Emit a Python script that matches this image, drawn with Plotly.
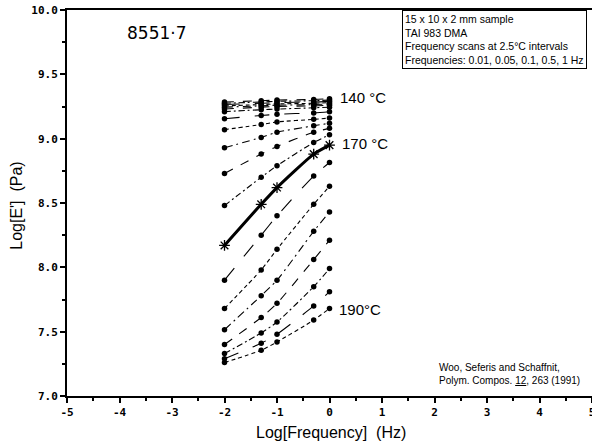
import plotly.graph_objects as go

# Log10 of the scan frequencies 0.01, 0.05, 0.1, 0.5, 1 Hz
log_freq = [-2.0, -1.301, -1.0, -0.301, 0.0]

# Log[E'] (Pa) for each isothermal frequency scan, top (140 °C) to bottom (190 °C)
c01 = [9.285, 9.295, 9.300, 9.305, 9.310]
c02 = [9.275, 9.285, 9.290, 9.295, 9.300]
c03 = [9.265, 9.275, 9.280, 9.285, 9.290]
c04 = [9.255, 9.265, 9.270, 9.275, 9.280]
c05 = [9.245, 9.255, 9.260, 9.265, 9.270]
c06 = [9.230, 9.245, 9.250, 9.255, 9.260]
c07 = [9.210, 9.225, 9.230, 9.240, 9.245]
c08 = [9.155, 9.180, 9.190, 9.200, 9.210]
c09 = [9.070, 9.110, 9.130, 9.150, 9.160]
c10 = [8.930, 9.010, 9.050, 9.100, 9.120]
c11 = [8.730, 8.880, 8.940, 9.050, 9.080]
c12 = [8.480, 8.700, 8.790, 8.970, 9.030]
c170 = [8.170, 8.490, 8.620, 8.880, 8.950]
c14 = [7.900, 8.250, 8.400, 8.710, 8.815]
c15 = [7.680, 7.980, 8.140, 8.490, 8.630]
c16 = [7.515, 7.780, 7.900, 8.280, 8.430]
c17 = [7.400, 7.610, 7.720, 8.060, 8.210]
c18 = [7.330, 7.490, 7.575, 7.850, 7.990]
c19 = [7.290, 7.410, 7.480, 7.700, 7.810]
c20 = [7.260, 7.355, 7.420, 7.590, 7.680]

dashed_curves = [c01, c02, c03, c04, c05, c06, c07, c08, c09, c10, c11, c12,
                 c14, c15, c16, c17, c18, c19, c20]

x_ticks = [-5, -4, -3, -2, -1, 0, 1, 2, 3, 4, 5]
x_tick_text = ["-5", "-4", "-3", "-2", "-1", "0", "1", "2", "3", "4", "5"]
y_ticks = [7.0, 7.5, 8.0, 8.5, 9.0, 9.5, 10.0]
y_tick_text = ["7.0", "7.5", "8.0", "8.5", "9.0", "9.5", "10.0"]

dash_styles = ["dash", "6px,3px,2px,3px", "longdash", "4px,3px", "8px,4px,2px,4px"]

fig = go.Figure()
for i, vals in enumerate(dashed_curves):
    fig.add_trace(go.Scatter(
        x=log_freq, y=vals, mode="lines+markers",
        line=dict(color="black", width=1.1, dash=dash_styles[i % len(dash_styles)], shape="spline", smoothing=0.6),
        marker=dict(color="black", size=5.5, symbol="circle"),
        showlegend=False, hoverinfo="skip"))

fig.add_trace(go.Scatter(
    x=log_freq, y=c170, mode="lines+markers",
    line=dict(color="black", width=3, shape="spline", smoothing=0.6),
    marker=dict(color="black", size=9, symbol="asterisk-open", line=dict(color="black", width=1.3)),
    showlegend=False, hoverinfo="skip"))

W, H = 592, 448
PL, PR, PT, PB = 67, 592, 10, 396.5
def px_x(p):
    return (p - PL) / (PR - PL)
def px_y(p):
    return (PB - p) / (PB - PT)

ann = []
ann.append(dict(x=-3.3, y=9.82, xref="x", yref="y", text="8551·7", showarrow=False,
                font=dict(family="DejaVu Sans", size=17, color="black")))
ann.append(dict(x=0.17, y=9.32, xref="x", yref="y", text="140 °C", showarrow=False, xanchor="left",
                font=dict(family="Liberation Sans", size=15, color="black")))
ann.append(dict(x=0.2, y=8.96, xref="x", yref="y", text="170 °C", showarrow=False, xanchor="left",
                font=dict(family="Liberation Sans", size=15, color="black")))
ann.append(dict(x=0.14, y=7.67, xref="x", yref="y", text="190°C", showarrow=False, xanchor="left",
                font=dict(family="Liberation Sans", size=15, color="black")))
ann.append(dict(x=px_x(402), y=1.0, xref="paper", yref="paper", xanchor="left", yanchor="top",
                text="15 x 10 x 2 mm sample<br>TAI 983 DMA<br>Frequency scans at 2.5°C intervals<br>Frequencies: 0.01, 0.05, 0.1, 0.5, 1 Hz",
                showarrow=False, align="left", bordercolor="black", borderwidth=1, borderpad=2,
                bgcolor="white", font=dict(family="Liberation Sans", size=10.5, color="black")))
ann.append(dict(x=px_x(437), y=px_y(374), xref="paper", yref="paper", xanchor="left", yanchor="middle",
                text="Woo, Seferis and Schaffnit,<br>Polym. Compos. <u>12</u>, 263 (1991)",
                showarrow=False, align="left", font=dict(family="Liberation Sans", size=10, color="black")))
ann.append(dict(x=px_x(331), y=px_y(433), xref="paper", yref="paper", xanchor="center", yanchor="middle",
                text="Log[Frequency]  (Hz)", showarrow=False,
                font=dict(family="Liberation Sans", size=16, color="black")))
ann.append(dict(x=px_x(17), y=px_y(206), xref="paper", yref="paper", xanchor="center", yanchor="middle",
                text="Log[E']  (Pa)", showarrow=False, textangle=-90,
                font=dict(family="Liberation Sans", size=16, color="black")))

tickfont = dict(family="DejaVu Sans Mono", size=11, color="black", weight="bold")
fig.update_layout(
    width=W, height=H, autosize=False,
    margin=dict(l=PL, r=W - PR, t=PT, b=H - PB),
    paper_bgcolor="white", plot_bgcolor="white",
    annotations=ann,
    xaxis=dict(range=[-5, 5], tickvals=x_ticks, ticktext=x_tick_text, ticks="outside", ticklen=5,
               tickwidth=1.5, tickcolor="black", showline=True, linecolor="black", linewidth=2,
               mirror=True, showgrid=False, zeroline=False, tickfont=tickfont, automargin=False,
               ticklabeloverflow="allow",
               minor=dict(dtick=0.5, ticks="outside", ticklen=3, tickcolor="black", showgrid=False)),
    yaxis=dict(range=[7, 10], tickvals=y_ticks, ticktext=y_tick_text, ticks="outside", ticklen=5,
               tickwidth=1.5, tickcolor="black", showline=True, linecolor="black", linewidth=2,
               showgrid=False, zeroline=False, tickfont=tickfont, automargin=False,
               ticklabeloverflow="allow",
               minor=dict(dtick=0.25, ticks="outside", ticklen=3, tickcolor="black", showgrid=False)),
)

fig.write_html("out.html", config={"displayModeBar": False},
               post_script="document.body.style.margin='0px';")
